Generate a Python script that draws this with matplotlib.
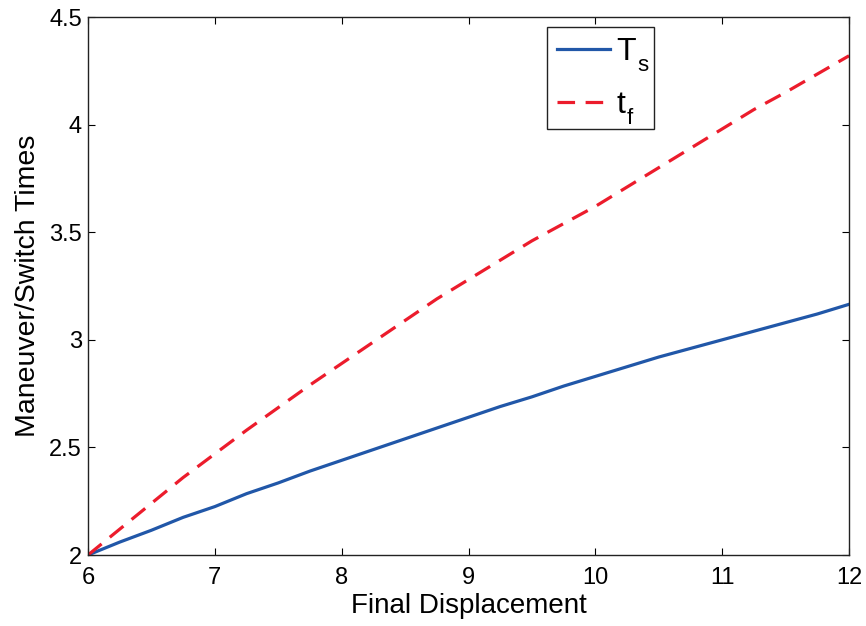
import matplotlib
matplotlib.use("Agg")
import matplotlib.pyplot as plt
from matplotlib.patches import Rectangle
from matplotlib.transforms import IdentityTransform

# === Data ===
displacement = [6.0, 6.25, 6.5, 6.75, 7.0, 7.25, 7.5, 7.75, 8.0, 8.25, 8.5, 8.75,
                9.0, 9.25, 9.5, 9.75, 10.0, 10.25, 10.5, 10.75, 11.0, 11.25,
                11.5, 11.75, 12.0]
switch_time = [2.000, 2.06, 2.115, 2.175, 2.225, 2.285, 2.335, 2.39, 2.44, 2.49,
               2.54, 2.59, 2.64, 2.69, 2.735, 2.785, 2.83, 2.875, 2.92, 2.96,
               3.00, 3.04, 3.08, 3.12, 3.165]
final_time = [2.00, 2.12, 2.24, 2.36, 2.47, 2.58, 2.685, 2.79, 2.89, 2.99,
              3.09, 3.19, 3.28, 3.37, 3.46, 3.54, 3.62, 3.71, 3.80, 3.89,
              3.98, 4.07, 4.15, 4.235, 4.32]
x_ticks = [6, 7, 8, 9, 10, 11, 12]
y_ticks = [2, 2.5, 3, 3.5, 4, 4.5]
y_tick_labels = ["2", "2.5", "3", "3.5", "4", "4.5"]
legend_main = ["T", "t"]
legend_sub = ["s", "f"]

plt.rcParams["font.family"] = ["Liberation Sans", "DejaVu Sans"]

fig = plt.figure(figsize=(8.66, 6.26), dpi=100)
ax = fig.add_axes([0.1016, 0.1134, 0.8788, 0.8594])

ax.plot(displacement, switch_time, color="#2157a8", lw=2.3)
ax.plot(displacement, final_time, color="#ec1c2c", lw=2.3, dashes=(5.5, 3.3))

ax.set_xlim(6, 12)
ax.set_ylim(2, 4.5)
ax.set_xticks(x_ticks)
ax.set_yticks(y_ticks)
ax.set_xticklabels([str(t) for t in x_ticks])
ax.set_yticklabels(y_tick_labels)
ax.tick_params(direction="in", length=5, width=0.8, top=True, right=True,
               labelsize=17)
ax.tick_params(axis="x", pad=8.6)
ax.tick_params(axis="y", pad=4.3)
for s in ax.spines.values():
    s.set_linewidth(1.0)
    s.set_color("#222222")

ax.set_xlabel("Final Displacement", fontsize=20, labelpad=3)
ax.set_ylabel("Maneuver/Switch Times", fontsize=20.5, labelpad=5.8)

# legend without frame; subscripts and frame are added after layout
leg = ax.legend(ax.get_lines(), legend_main, loc="upper left",
                bbox_to_anchor=(0.6036, 0.981), fontsize=23, frameon=False,
                handlelength=1.66, handleheight=0.7, borderpad=0.3,
                labelspacing=0.72, handletextpad=0.2, borderaxespad=0)

fig.canvas.draw()
renderer = fig.canvas.get_renderer()
em = 23 * fig.dpi / 72
sub_texts = []
for txt, sub in zip(leg.get_texts(), legend_sub):
    bb = txt.get_window_extent(renderer)
    x0, y0 = txt.get_transform().transform((0, 0))
    sub_texts.append(fig.text(bb.x1 + 1.5, y0 - 0.36 * em, sub,
                              transform=IdentityTransform(), fontsize=16,
                              ha="left", va="baseline"))

fig.canvas.draw()
box = leg.get_window_extent(renderer)
right = max(t.get_window_extent(renderer).x1 for t in sub_texts) + 5
fig.add_artist(Rectangle((box.x0, box.y0), right - box.x0, box.height,
                         transform=IdentityTransform(), fill=False,
                         edgecolor="#222222", lw=1.0))

fig.savefig("out.png", dpi=100)
